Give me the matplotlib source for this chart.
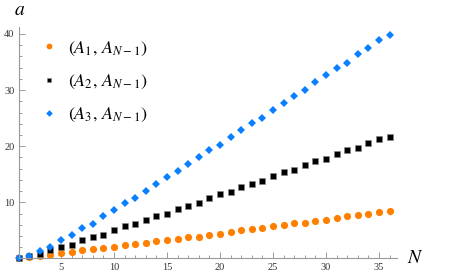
import matplotlib
matplotlib.use("Agg")
import matplotlib.pyplot as plt
from matplotlib.ticker import MultipleLocator

# ---- data ----
n_values = [1, 2, 3, 4, 5, 6, 7, 8, 9, 10, 11, 12, 13, 14, 15, 16, 17, 18,
            19, 20, 21, 22, 23, 24, 25, 26, 27, 28, 29, 30, 31, 32, 33, 34, 35, 36]

a1_values = [0.0, 0.2, 0.5, 0.65, 0.9, 1.1, 1.5, 1.7, 1.9, 2.1, 2.4, 2.5,
             2.8, 3.1, 3.3, 3.4, 3.8, 3.9, 4.25, 4.4, 4.8, 5.0, 5.3, 5.4,
             5.8, 6.0, 6.3, 6.4, 6.7, 6.9, 7.3, 7.5, 7.8, 7.9, 8.2, 8.4]

a2_values = [0.1, 0.5, 0.8, 1.5, 2.1, 2.4, 3.3, 3.8, 4.1, 5.1, 5.7, 6.1,
             6.9, 7.6, 8.0, 8.8, 9.4, 9.9, 10.8, 11.4, 11.9, 12.7, 13.3, 13.8,
             14.7, 15.4, 15.8, 16.6, 17.3, 17.8, 18.7, 19.3, 19.7, 20.6, 21.2, 21.7]

a3_values = [0.0, 0.5, 1.4, 2.0, 3.3, 4.1, 5.4, 6.1, 7.5, 8.6, 9.8, 10.7,
             12.1, 13.2, 14.6, 15.5, 16.9, 18.0, 19.4, 20.2, 21.7, 22.8, 24.1, 25.0,
             26.5, 27.7, 29.0, 30.0, 31.5, 32.6, 33.9, 34.8, 36.4, 37.5, 38.9, 39.8]

labels = [r'$(A_1,\,A_{N-1})$', r'$(A_2,\,A_{N-1})$', r'$(A_3,\,A_{N-1})$']

# ---- style ----
plt.rcParams['font.family'] = ['Liberation Serif', 'DejaVu Serif']
plt.rcParams['mathtext.fontset'] = 'stix'

fig = plt.figure(figsize=(4.5, 2.79), dpi=100)
ax = fig.add_axes([0.0413, 0.0735, 0.841, 0.829])

ax.plot(n_values, a1_values, 'o', color='#ff8000', markersize=5.2,
        markeredgewidth=0, clip_on=False, label=labels[0])
ax.plot(n_values, a2_values, 's', color='black', markersize=4.3,
        markeredgecolor='#888888', markeredgewidth=0.4, clip_on=False, label=labels[1])
ax.plot(n_values, a3_values, 'D', color='#0a80ff', markersize=4.2,
        markeredgewidth=0, clip_on=False, label=labels[2])

ax.set_xlim(1, 36.7)
ax.set_ylim(0, 41.2)

for side in ['top', 'right']:
    ax.spines[side].set_visible(False)
for side in ['left', 'bottom']:
    ax.spines[side].set_color('#9a9a9a')
    ax.spines[side].set_linewidth(0.8)

ax.xaxis.set_major_locator(MultipleLocator(5))
ax.xaxis.set_minor_locator(MultipleLocator(1))
ax.yaxis.set_major_locator(MultipleLocator(10))
ax.yaxis.set_minor_locator(MultipleLocator(2))
ax.set_xticks([5, 10, 15, 20, 25, 30, 35])
ax.set_yticks([10, 20, 30, 40])

ax.tick_params(which='both', direction='in', colors='#9a9a9a', labelcolor='#333333',
               labelsize=7.5, width=0.7)
ax.tick_params(which='major', length=4, pad=3)
ax.tick_params(which='minor', length=2.2)

ax.text(37.6, 0.0, r'$N$', fontsize=14, va='center', ha='left', clip_on=False)
fig.text(0.031, 0.962, r'$a$', fontsize=14, va='center', ha='left')

ax.legend(loc='upper left', bbox_to_anchor=(0.093, 0.858), bbox_transform=fig.transFigure,
          frameon=False, fontsize=13, markerscale=0.8, handlelength=0.77,
          handletextpad=0.69, labelspacing=0.84, borderpad=0, borderaxespad=0)

plt.savefig('out.png', dpi=100)
